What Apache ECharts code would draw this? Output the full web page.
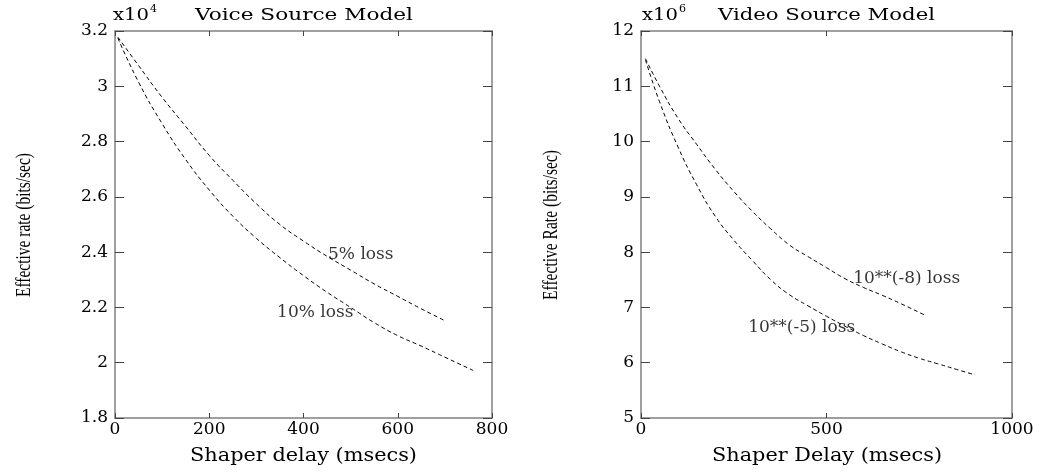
<!DOCTYPE html>
<html>
<head>
<meta charset="utf-8">
<script src="https://cdn.jsdelivr.net/npm/echarts@6/dist/echarts.min.js"></script>
<style>
html,body{margin:0;padding:0;background:#fff;}
#c{width:1051px;height:475px;}
</style>
</head>
<body>
<div id="c"></div>
<script>
// ---- Voice source model (x10^4 bits/sec) ----
const voiceDelay5 = [6, 50, 100, 150, 200, 250, 300, 350, 400, 450, 500, 550, 600, 650, 700];
const voiceRate5  = [3.178, 3.075, 2.96, 2.855, 2.75, 2.66, 2.575, 2.50, 2.44, 2.385, 2.335, 2.285, 2.24, 2.195, 2.152];
const voiceDelay10 = [6, 50, 100, 150, 200, 250, 300, 350, 400, 450, 500, 550, 600, 650, 700, 760];
const voiceRate10  = [3.175, 3.015, 2.865, 2.735, 2.625, 2.53, 2.45, 2.38, 2.315, 2.255, 2.20, 2.145, 2.098, 2.06, 2.02, 1.972];

// ---- Video source model (x10^6 bits/sec) ----
const videoDelay8 = [12, 50, 100, 150, 200, 250, 300, 350, 400, 450, 500, 550, 600, 650, 700, 765];
const videoRate8  = [11.50, 11.0, 10.42, 9.95, 9.50, 9.10, 8.74, 8.42, 8.13, 7.92, 7.72, 7.52, 7.36, 7.22, 7.07, 6.86];
const videoDelay5 = [12, 50, 100, 150, 200, 250, 300, 350, 400, 450, 500, 550, 600, 650, 700, 750, 800, 850, 900];
const videoRate5  = [11.48, 10.72, 9.90, 9.22, 8.65, 8.22, 7.85, 7.50, 7.23, 7.03, 6.84, 6.66, 6.49, 6.34, 6.20, 6.08, 5.98, 5.88, 5.78];

// axis ticks
const voiceXTicks = {min: 0, max: 800, interval: 200};
const voiceYTicks = {min: 1.8, max: 3.2, interval: 0.2};
const videoXTicks = {min: 0, max: 1000, interval: 500};
const videoYTicks = {min: 5, max: 12, interval: 1};

// texts
const titles = ['Voice Source Model', 'Video Source Model'];
const scaleExponents = ['4', '6'];
const xNames = ['Shaper delay (msecs)', 'Shaper Delay (msecs)'];
const yNames = ['Effective rate (bits/sec)', 'Effective Rate (bits/sec)'];

// curve annotations (anchor in data units)
const voiceLabels = [{text: '5% loss', at: [452, 2.39]}, {text: '10% loss', at: [344, 2.182]}];
const videoLabels = [{text: '10**(-8) loss', at: [572, 7.515]}, {text: '10**(-5) loss', at: [289, 6.637]}];

const zip = (xs, ys) => xs.map((x, i) => [x, ys[i]]);

const SERIF = '"DejaVu Serif", "Liberation Serif", serif';
const frameColor = '#808080';
const tickColor = '#444';

const mctx = document.createElement('canvas').getContext('2d');
function measure(text, font) { mctx.font = font; return mctx.measureText(text).width; }

function xAx(grid, t, pos, labels) {
  return {
    type: 'value', gridIndex: grid, position: pos,
    min: t.min, max: t.max, interval: t.interval,
    axisLine: {show: true, onZero: false, lineStyle: {color: frameColor, width: 1.5}},
    axisTick: {show: true, inside: true, length: 5, lineStyle: {color: tickColor, width: 1}},
    axisLabel: {show: labels, color: '#000', fontFamily: SERIF, fontSize: 17, margin: 3,
      formatter: v => String(v)},
    splitLine: {show: false}
  };
}
function yAx(grid, t, pos, labels) {
  return {
    type: 'value', gridIndex: grid, position: pos,
    min: t.min, max: t.max, interval: t.interval,
    axisLine: {show: true, onZero: false, lineStyle: {color: frameColor, width: 1.5}},
    axisTick: {show: true, inside: true, length: 9, lineStyle: {color: tickColor, width: 1}},
    axisLabel: {show: labels, color: '#000', fontFamily: SERIF, fontSize: 17, margin: 7,
      formatter: v => String(Math.round(v * 10) / 10)},
    splitLine: {show: false}
  };
}

function curve(x, y, xi, yi) {
  return {
    type: 'line', xAxisIndex: xi, yAxisIndex: yi, data: zip(x, y),
    showSymbol: false, smooth: true, silent: true,
    lineStyle: {color: '#000', width: 1, type: [4, 3]}
  };
}
function labels(list, xi, yi) {
  return {
    type: 'scatter', xAxisIndex: xi, yAxisIndex: yi, symbolSize: 0, silent: true,
    data: list.map(l => ({value: l.at, name: l.text})),
    label: {show: true, position: 'right', distance: 0, formatter: p => p.name,
      fontFamily: SERIF, fontSize: 17, color: '#000'}
  };
}

// scaled text helper: fits text to a target width (horizontal) or length (rotated)
function fitText(text, font, x, y, targetLen, opts) {
  const w = measure(text, font);
  return Object.assign({
    type: 'text', x: x, y: y, scaleX: targetLen / w, silent: true,
    style: {text: text, font: font, fill: '#000', align: 'left', verticalAlign: 'middle'}
  }, opts || {});
}

const titleFont = '17px "DejaVu Serif"';
const nameFont = '18px "DejaVu Serif"';
const yNameFont = '21px "Liberation Serif"';

const graphics = [
  // panel titles
  fitText('x10', titleFont, 113, 15.5, 36),
  {type: 'text', x: 150, y: 9, silent: true, style: {text: scaleExponents[0], font: '11px "DejaVu Serif"', fill: '#000', align: 'left', verticalAlign: 'middle'}},
  fitText(titles[0], titleFont, 195, 15.5, 218),
  fitText('x10', titleFont, 642, 15.5, 36),
  {type: 'text', x: 679, y: 9, silent: true, style: {text: scaleExponents[1], font: '11px "DejaVu Serif"', fill: '#000', align: 'left', verticalAlign: 'middle'}},
  fitText(titles[1], titleFont, 718, 15.5, 217),
  // x axis names
  fitText(xNames[0], nameFont, 190, 456, 227),
  fitText(xNames[1], nameFont, 712, 456, 230),
  // y axis names (rotated)
  (function () { const e = fitText(yNames[0], yNameFont, 24, 225, 144); e.rotation = Math.PI / 2; e.style.align = 'center'; return e; })(),
  (function () { const e = fitText(yNames[1], yNameFont, 551, 225, 150); e.rotation = Math.PI / 2; e.style.align = 'center'; return e; })()
];

const option = {
  animation: false,
  backgroundColor: '#fff',
  grid: [
    {left: 115, top: 31, width: 377, height: 387},
    {left: 641, top: 31, width: 371, height: 387}
  ],
  xAxis: [
    xAx(0, voiceXTicks, 'bottom', true),
    xAx(0, voiceXTicks, 'top', false),
    xAx(1, videoXTicks, 'bottom', true),
    xAx(1, videoXTicks, 'top', false)
  ],
  yAxis: [
    yAx(0, voiceYTicks, 'left', true),
    yAx(0, voiceYTicks, 'right', false),
    yAx(1, videoYTicks, 'left', true),
    yAx(1, videoYTicks, 'right', false)
  ],
  graphic: graphics,
  series: [
    curve(voiceDelay5, voiceRate5, 0, 0),
    curve(voiceDelay10, voiceRate10, 0, 0),
    curve(videoDelay8, videoRate8, 2, 2),
    curve(videoDelay5, videoRate5, 2, 2),
    labels(voiceLabels, 0, 0),
    labels(videoLabels, 2, 2)
  ]
};

const chart = echarts.init(document.getElementById('c'), null, {renderer: 'canvas'});
chart.setOption(option);
</script>
</body>
</html>
